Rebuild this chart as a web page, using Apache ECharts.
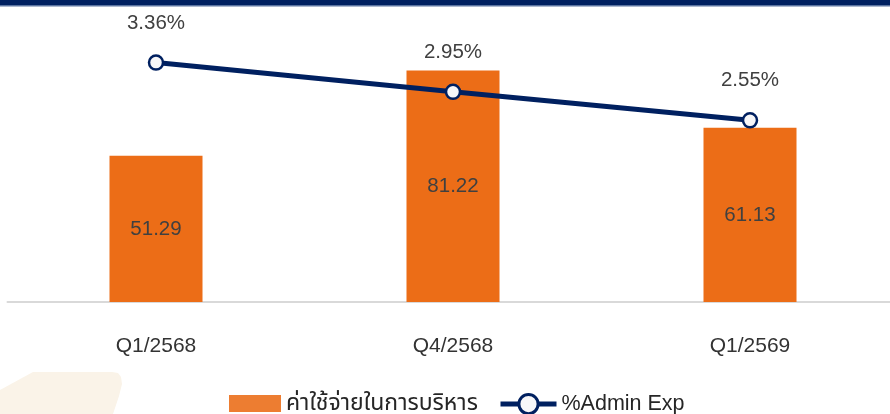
<!DOCTYPE html>
<html>
<head>
<meta charset="utf-8">
<script src="https://cdn.jsdelivr.net/npm/echarts@6/dist/echarts.min.js"></script>
<style>html,body{margin:0;padding:0;background:#fff}#c{width:890px;height:414px}</style>
</head>
<body>
<div id="c"></div>
<script>
const categories = ['Q1/2568', 'Q4/2568', 'Q1/2569'];
const adminExpense = [51.29, 81.22, 61.13];
const adminExpPct = [3.36, 2.95, 2.55];
const seriesNames = ['ค่าใช้จ่ายในการบริหาร', '%Admin Exp'];

const FONT = '"Liberation Sans", Arial, "Noto Sans Thai", "Noto Sans", sans-serif';
const chart = echarts.init(document.getElementById('c'), null, {renderer: 'canvas'});
chart.setOption({
  animation: false,
  backgroundColor: '#ffffff',
  textStyle: {fontFamily: FONT},
  graphic: [
    {type: 'rect', shape: {x: 0, y: 0, width: 890, height: 5}, style: {fill: '#002060'}, z: 0},
    {type: 'rect', shape: {x: 0, y: 5, width: 890, height: 1.5}, style: {fill: '#5a73a0'}, z: 0},
    {type: 'polygon', shape: {points: [[0, 390], [33, 372], [112, 372], [118, 373], [121, 377], [122, 384], [119, 396], [113, 414], [0, 414]]}, style: {fill: '#FAF3E8'}, z: -1}
  ],
  grid: {left: 7.5, width: 891, top: 17, height: 285, outerBoundsMode: 'none'},
  legend: [
    {
      top: 392,
      left: 229,
      padding: 0,
      itemWidth: 52,
      itemHeight: 17,
      itemGap: 0,
      textStyle: {fontSize: 23, color: '#262626', fontFamily: FONT},
      data: [{name: seriesNames[0], icon: 'rect', itemStyle: {color: '#ED7D31'}}]
    },
    {
      top: 393,
      left: 498,
      padding: 0,
      itemWidth: 56,
      itemHeight: 24,
      itemGap: 0,
      textStyle: {fontSize: 21.5, color: '#262626', fontFamily: FONT},
      data: [{name: seriesNames[1], lineStyle: {width: 5, color: '#002060'}, itemStyle: {borderWidth: 3}}]
    }
  ],
  xAxis: {
    type: 'category',
    data: categories,
    axisLine: {show: true, lineStyle: {color: '#D9D9D9', width: 2}},
    axisTick: {show: false},
    axisLabel: {fontSize: 21, color: '#333333', margin: 34, fontFamily: FONT}
  },
  yAxis: [
    {type: 'value', min: 0, max: 100, show: false, splitLine: {show: false}},
    {type: 'value', min: 0, max: 4, show: false, splitLine: {show: false}}
  ],
  series: [
    {
      name: seriesNames[0],
      type: 'bar',
      data: adminExpense,
      barWidth: 93,
      itemStyle: {color: '#EC6D17'},
      label: {show: true, position: 'inside', fontSize: 20.5, color: '#404040', fontFamily: FONT},
      z: 2
    },
    {
      name: seriesNames[1],
      type: 'line',
      yAxisIndex: 1,
      data: adminExpPct,
      lineStyle: {color: '#002060', width: 5},
      symbol: 'circle',
      symbolSize: 14,
      itemStyle: {color: '#F7F7F9', borderColor: '#002060', borderWidth: 2.5},
      label: {show: true, position: 'top', distance: 21, fontSize: 20.5, color: '#404040', fontFamily: FONT,
        formatter: p => p.value.toFixed(2) + '%'},
      z: 3
    }
  ]
});
</script>
</body>
</html>
